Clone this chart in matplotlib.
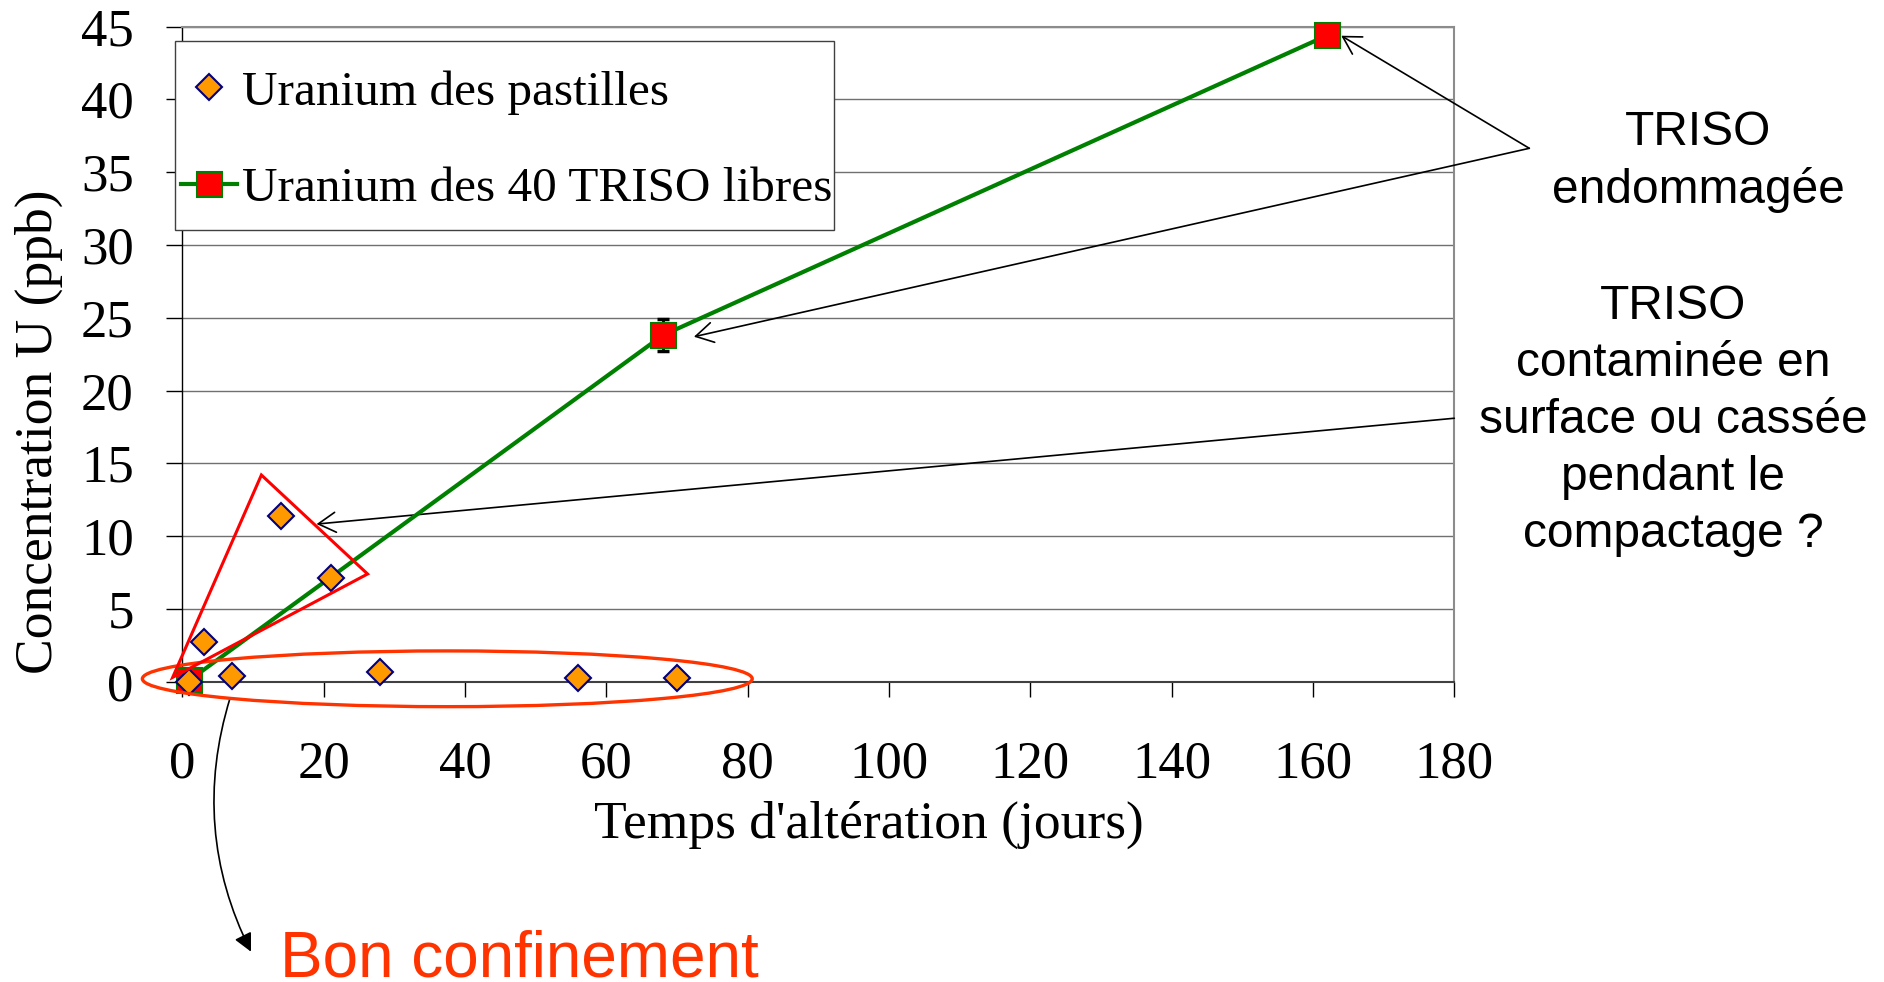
import matplotlib
matplotlib.use("Agg")
import matplotlib.pyplot as plt
from matplotlib.patches import Ellipse, Polygon, Rectangle

# ── Style ────────────────────────────────────────────────────────────────────
plt.rcParams.update({
    "font.family": "Liberation Serif",
})

ORANGE = "#FF9900"
MARINE = "#000080"
VERT = "#008000"
ROUGE = "#FF0000"
ROUGE_ORANGE = "#FF3300"
SANS = "Liberation Sans"

# ── Données ──────────────────────────────────────────────────────────────────
jours_pastilles = [1, 3, 7, 14, 21, 28, 56, 70]
u_pastilles = [0.0, 2.7, 0.4, 11.4, 7.15, 0.7, 0.25, 0.25]

jours_triso = [1, 68, 162]
u_triso = [0.1, 23.8, 44.4]
err_triso = [0.0, 1.1, 0.0]

xticks = list(range(0, 181, 20))
yticks = list(range(0, 46, 5))

label_pastilles = "Uranium des pastilles"
label_triso = "Uranium des 40 TRISO libres"

# ── Figure ───────────────────────────────────────────────────────────────────
W, H = 1884, 982
fig = plt.figure(figsize=(W / 100, H / 100), dpi=100)
ax = fig.add_axes([182.3 / W, 1 - 681.7 / H, (1454.3 - 182.3) / W, (681.7 - 26.7) / H])

ax.errorbar(jours_triso, u_triso, yerr=err_triso, fmt="none", ecolor="black",
            elinewidth=2, capsize=4, capthick=2.5, zorder=3)
l_triso, = ax.plot(jours_triso, u_triso, color=VERT, lw=3, marker="s", ms=18,
                   mfc=ROUGE, mec=VERT, mew=1.5, zorder=4, clip_on=False)
l_past, = ax.plot(jours_pastilles, u_pastilles, ls="none", marker="D", ms=13,
                  mfc=ORANGE, mec=MARINE, mew=1.5, zorder=5, clip_on=False)

ax.set_xlim(0, 180)
ax.set_ylim(0, 45)
ax.set_xticks(xticks)
ax.set_yticks(yticks)
ax.tick_params(axis="x", direction="out", length=10.8, width=1, pad=31.5, labelsize=38)
ax.tick_params(axis="y", direction="out", length=11.5, width=1, pad=23.5, labelsize=38)
ax.yaxis.grid(True, color="#707070", lw=1)
ax.set_axisbelow(True)

ax.spines["left"].set_color("black")
ax.spines["left"].set_linewidth(1)
ax.spines["bottom"].set_color("#404040")
ax.spines["bottom"].set_linewidth(1.5)
for s in ["top", "right"]:
    ax.spines[s].set_color("#8c8c8c")
    ax.spines[s].set_linewidth(1.5)

# cadre de légende (dessiné à part pour garder les marges du modèle)
ax.add_patch(Rectangle((175 / W, 1 - 230 / H), 659 / W, 189.3 / H,
                       transform=fig.transFigure, fc="white", ec="#404040",
                       lw=1, zorder=4.5, clip_on=False))
leg = ax.legend([l_past, l_triso], [label_pastilles, label_triso],
                loc="upper left", bbox_to_anchor=(181 / W, 1 - 70 / H),
                bbox_transform=fig.transFigure, fontsize=35.5, frameon=False,
                borderpad=0, labelspacing=1.05, handlelength=1.14,
                handletextpad=0.09, borderaxespad=0, numpoints=1)

# ── Labels des axes ──────────────────────────────────────────────────────────
fig.text(868.6 / W, 1 - 838 / H, "Temps d'altération (jours)", ha="center",
         va="baseline", fontsize=38.5)
fig.text(39 / W, 1 - 432 / H, "Concentration U (ppb)", ha="center",
         va="center", rotation=90, fontsize=38.5)

# ── Annotations ──────────────────────────────────────────────────────────────
ax.add_patch(Ellipse((37.5, 0.2), 86.3, 3.83, fill=False, ec=ROUGE_ORANGE,
                     lw=2.4, zorder=6, clip_on=False))
ax.add_patch(Polygon([(-1.36, 0.3), (11.19, 14.2), (26.22, 7.4)], closed=True,
                     fill=False, ec=ROUGE, lw=2.2, zorder=6, clip_on=False))

fleche = dict(arrowstyle="->,head_length=1.25,head_width=0.72", mutation_scale=10,
              lw=1.2, color="black", shrinkA=0, shrinkB=0)
ax.annotate("", xy=(164.0, 44.38), xytext=(1529.3, H - 148.3),
            textcoords="figure pixels", arrowprops=fleche, annotation_clip=False)
ax.annotate("", xy=(72.4, 23.7), xytext=(1529.3, H - 148.3),
            textcoords="figure pixels", arrowprops=fleche, annotation_clip=False)
ax.annotate("", xy=(19.0, 10.83), xytext=(180, 18.1),
            arrowprops=fleche, annotation_clip=False)
ax.annotate("", xy=(9.72, -18.55), xytext=(6.75, -1.14),
            arrowprops=dict(arrowstyle="-|>,head_length=1.1,head_width=0.55",
                            mutation_scale=10, lw=1.2, color="black",
                            shrinkA=0, shrinkB=0, connectionstyle="arc3,rad=0.2"),
            annotation_clip=False)

# va="baseline" sur un texte multi-ligne : ligne du bas
fig.text(1698 / W, 1 - 203.3 / H, "TRISO\nendommagée", ha="center", va="baseline",
         multialignment="center", fontsize=34.5, family=SANS, linespacing=1.34)
fig.text(1673 / W, 1 - 546.7 / H,
         "TRISO\ncontaminée en\nsurface ou cassée\npendant le\ncompactage ?",
         ha="center", va="baseline", multialignment="center", fontsize=34.5,
         family=SANS, linespacing=1.34)
fig.text(280 / W, 1 - 976.7 / H, "Bon confinement", ha="left", va="baseline",
         fontsize=46, color=ROUGE_ORANGE, family=SANS)

fig.savefig("out.png", dpi=100)
